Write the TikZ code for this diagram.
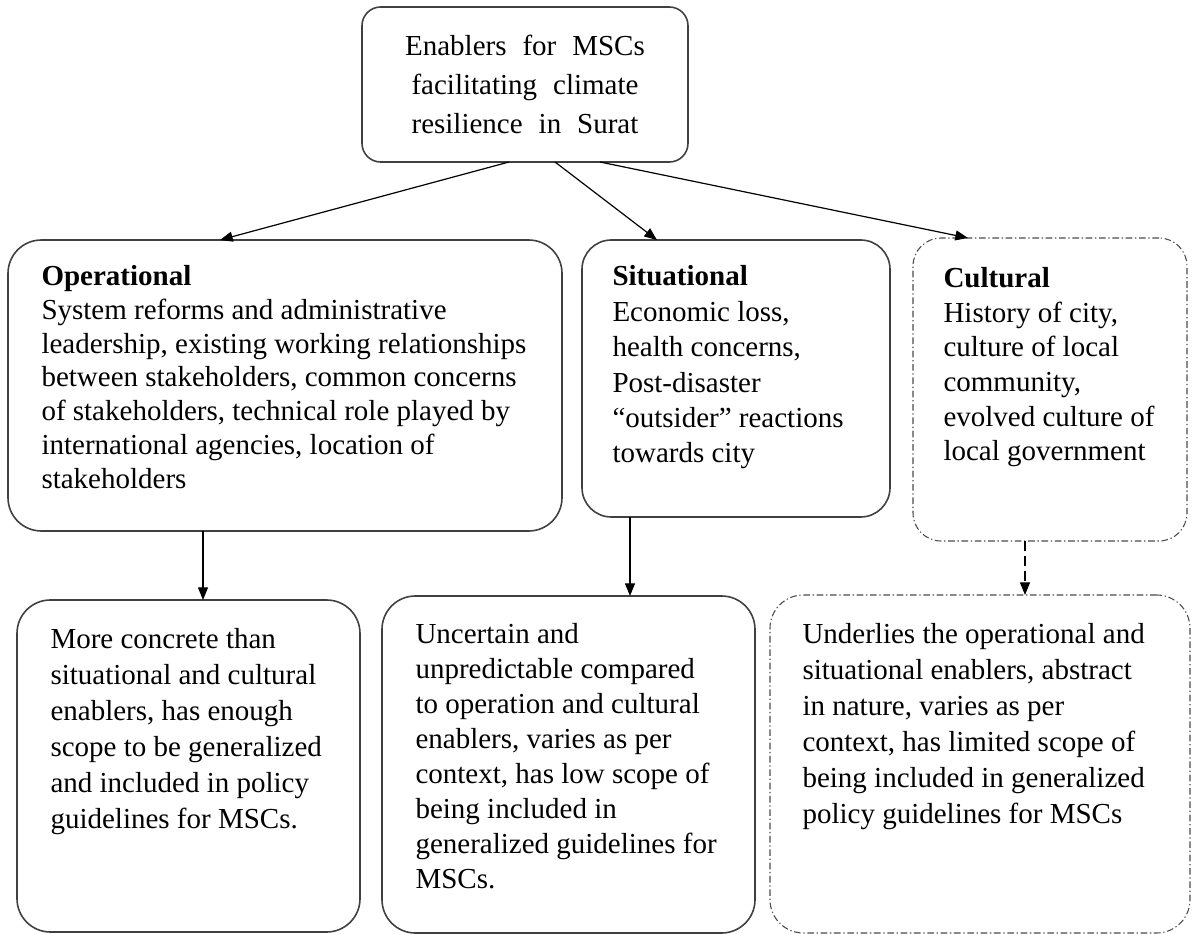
\documentclass[tikz,border=0pt]{standalone}
\usepackage{fontspec}
\setmainfont{Liberation Serif}
\usetikzlibrary{arrows.meta}
\tikzset{every picture/.style={line width=0.75pt}}
\newcommand\rootfont{\fontsize{21.75}{29.25}\selectfont\spaceskip 0.55em\relax}
\tikzset{
  enabler/.style={draw=black!75, line width=1.2pt, inner sep=0pt, outer sep=0pt},
  softbox/.style={draw=black!70, line width=0.8pt, dash pattern=on 5pt off 2pt on 1pt off 2pt, inner sep=0pt, outer sep=0pt},
  body/.style={anchor=north west, inner sep=0pt, align=left, font=\fontsize{21.75}{26.6}\selectfont},
  lowbody/.style={body, font=\fontsize{21.75}{27}\selectfont},
  link/.style={draw=black, line width=0.9pt, -{Triangle[length=9.5pt,width=7.5pt]}},
}

\begin{document}
\begin{tikzpicture}[x=0.75pt,y=0.75pt,yscale=-1,xscale=1]
    \useasboundingbox (0,0) rectangle (1193,934);

    %Shape: Rounded Rect [id:root]
    \node [enabler, rounded corners=14pt, minimum width=244.5pt, minimum height=116.25pt, align=center, font=\rootfont] (root) at (525,84.5) {Enablers for MSCs\\facilitating climate\\resilience in Surat};
    %Shape: Rounded Rect [id:op]
    \node [enabler, rounded corners=25pt, minimum width=415.5pt, minimum height=218.25pt] (op) at (285,385.5) {};
    %Shape: Rounded Rect [id:sit]
    \node [enabler, rounded corners=22pt, minimum width=231pt, minimum height=207.75pt] (sit) at (736,378.5) {};
    %Shape: Rounded Rect [id:cult]
    \node [softbox, rounded corners=21pt, minimum width=205.5pt, minimum height=227.25pt] (cult) at (1050,389.5) {};
    %Shape: Rounded Rect [id:opNote]
    \node [enabler, rounded corners=25pt, minimum width=257.25pt, minimum height=249pt] (opNote) at (188.5,766) {};
    %Shape: Rounded Rect [id:sitNote]
    \node [enabler, rounded corners=25pt, minimum width=279.75pt, minimum height=252.75pt] (sitNote) at (568.5,764.5) {};
    %Shape: Rounded Rect [id:cultNote]
    \node [softbox, rounded corners=25pt, minimum width=315pt, minimum height=253.5pt] (cultNote) at (980,764) {};

    %Straight Lines [id:root-op]
    \draw [link] ([xshift=-12pt]root.south) -- ([xshift=-48.75pt]op.north);
    %Straight Lines [id:root-sit]
    \draw [link] ([xshift=22.5pt]root.south) -- ([xshift=-59.25pt]sit.north);
    %Straight Lines [id:root-cult]
    \draw [link] ([xshift=56.25pt]root.south) -- ([xshift=-61.5pt]cult.north);
    %Straight Lines [id:op-note]
    \draw [link] ([xshift=-61.5pt]op.south) -- ([xshift=10.875pt]opNote.north);
    %Straight Lines [id:sit-note]
    \draw [link] ([xshift=-79.5pt]sit.south) -- ([xshift=46.125pt]sitNote.north);
    %Straight Lines [id:cult-note]
    \draw [link, dash pattern=on 7.5pt off 3.75pt] ([xshift=-18.75pt]cult.south) -- ([xshift=33.75pt]cultNote.north);

    % Text Node
    \node [body, font=\fontsize{21.75}{25.3}\selectfont] (opText) at (41,265) {\textbf{Operational}\\System reforms and administrative\\leadership,  existing  working relationships\\between stakeholders, common  concerns\\of stakeholders, technical role  played by\\international  agencies, location  of\\stakeholders};
    % Text Node
    \node [body] (sitText) at (612,265) {\textbf{Situational}\\Economic loss,\\health concerns,\\Post-disaster\\“outsider”  reactions\\towards city};
    % Text Node
    \node [body, font=\fontsize{21.75}{26}\selectfont] (cultText) at (943,267) {\textbf{Cultural}\\History of city,\\culture of local\\community,\\evolved culture of\\local government};
    % Text Node
    \node [lowbody] (opNoteText) at (50,628) {More concrete than\\situational  and cultural\\enablers, has enough\\scope to be generalized\\and included  in policy\\guidelines  for MSCs.};
    % Text Node
    \node [lowbody, font=\fontsize{21.75}{26.25}\selectfont] (sitNoteText) at (415,623) {Uncertain and\\unpredictable  compared\\to operation and cultural\\enablers, varies as per\\context, has low scope of\\being included  in\\generalized guidelines  for\\MSCs.};
    % Text Node
    \node [lowbody] (cultNoteText) at (802,623) {Underlies the operational and\\situational enablers, abstract\\in nature, varies as per\\context, has limited scope of\\being included in generalized\\policy guidelines for MSCs};
\end{tikzpicture}
\end{document}
